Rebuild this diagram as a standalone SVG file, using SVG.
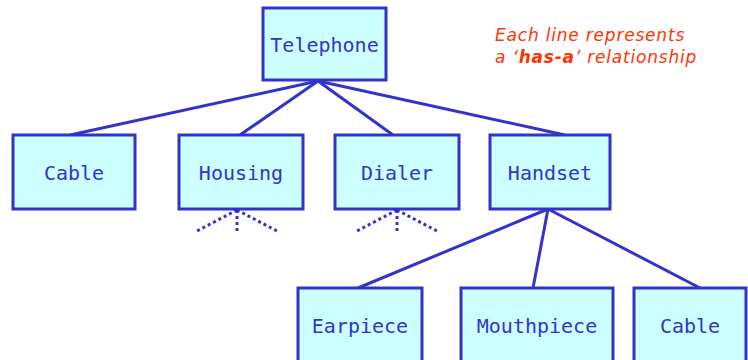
<svg xmlns="http://www.w3.org/2000/svg" width="748" height="360" viewBox="0 0 748 360">
<style>
.box{fill:#CCFFFF;stroke:#3333CC;stroke-width:3}
.lbl{font-family:"DejaVu Sans Mono",monospace;font-size:20px;fill:#3333CC;text-anchor:middle}
.con{stroke:#3333CC;stroke-width:3;fill:none}
.dot{stroke:#3333CC;stroke-width:3;fill:none;stroke-dasharray:3 3}
.note{font-family:"DejaVu Sans",sans-serif;font-size:17px;letter-spacing:0.8px;font-style:italic;fill:#FF3300}
</style>
<rect width="748" height="360" fill="#ffffff"/>
<g id="connectors">
<line class="con" x1="318" y1="81" x2="70" y2="135"/>
<line class="con" x1="318" y1="81" x2="240" y2="135"/>
<line class="con" x1="318" y1="81" x2="393" y2="135"/>
<line class="con" x1="318" y1="81" x2="565" y2="135"/>
<line class="con" x1="548" y1="209" x2="358" y2="288"/>
<line class="con" x1="548" y1="209" x2="533" y2="288"/>
<line class="con" x1="548" y1="209" x2="700" y2="288"/>
<line class="dot" x1="237" y1="210" x2="197" y2="231"/>
<line class="dot" x1="237" y1="210" x2="237" y2="232"/>
<line class="dot" x1="237" y1="210" x2="277" y2="231"/>
<line class="dot" x1="397" y1="210" x2="357" y2="231"/>
<line class="dot" x1="397" y1="210" x2="397" y2="232"/>
<line class="dot" x1="397" y1="210" x2="437" y2="231"/>
</g>
<g id="telephone"><rect class="box" x="263" y="8" width="123" height="72"/><text class="lbl" x="324.5" y="52">Telephone</text></g>
<g id="cable1"><rect class="box" x="13" y="135" width="122" height="74"/><text class="lbl" x="74" y="180">Cable</text></g>
<g id="housing"><rect class="box" x="179" y="135" width="124" height="74"/><text class="lbl" x="241" y="180">Housing</text></g>
<g id="dialer"><rect class="box" x="335" y="135" width="124" height="74"/><text class="lbl" x="397" y="180">Dialer</text></g>
<g id="handset"><rect class="box" x="490" y="135" width="120" height="74"/><text class="lbl" x="550" y="180">Handset</text></g>
<g id="earpiece"><rect class="box" x="298" y="288" width="124" height="74"/><text class="lbl" x="360" y="333">Earpiece</text></g>
<g id="mouthpiece"><rect class="box" x="461" y="288" width="152" height="74"/><text class="lbl" x="537" y="333">Mouthpiece</text></g>
<g id="cable2"><rect class="box" x="634" y="288" width="112" height="74"/><text class="lbl" x="690" y="333">Cable</text></g>
<g id="note">
<text class="note" x="495" y="41">Each line represents</text>
<text class="note" x="495" y="63">a ‘<tspan font-weight="bold">has-a</tspan>’ relationship</text>
</g>
</svg>
